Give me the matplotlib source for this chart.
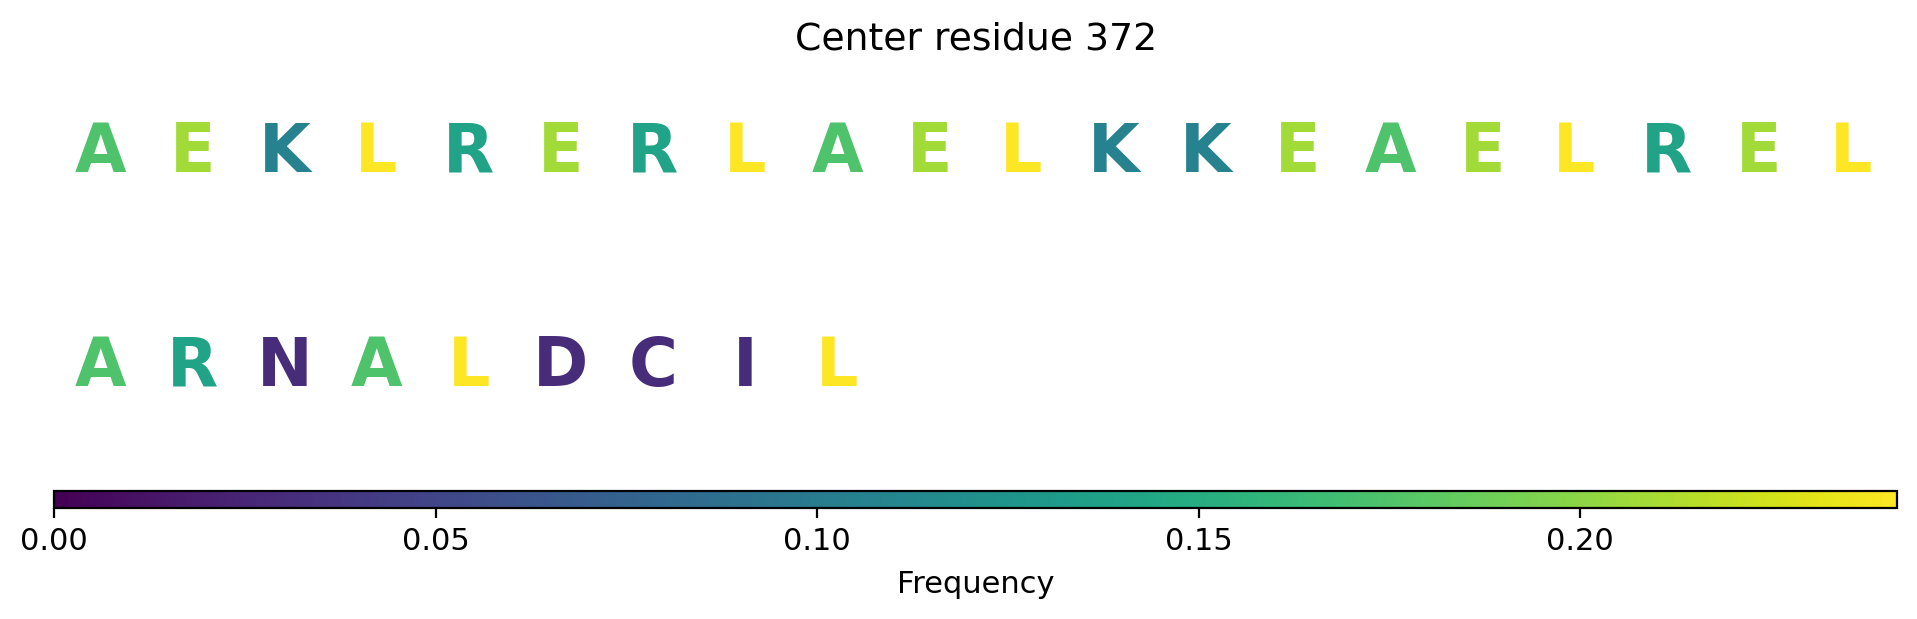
import numpy as np
import matplotlib
matplotlib.use("Agg")
import matplotlib.pyplot as plt
from matplotlib.colors import Normalize
from matplotlib.cm import ScalarMappable

# Residues shown in each row
top_row = list("AEKLRERLAELKKEAELREL")
bottom_row = list("ARNALDCIL")

# Frequency of each residue type
residues = ["L", "E", "A", "R", "K", "N", "D", "C", "I"]
frequencies = [0.2415, 0.208, 0.174, 0.140, 0.106, 0.030, 0.030, 0.030, 0.030]
freq = dict(zip(residues, frequencies))

title = "Center residue 372"
cbar_ticks = [0.00, 0.05, 0.10, 0.15, 0.20]

cmap = plt.get_cmap("viridis")
norm = Normalize(vmin=0, vmax=max(frequencies))

fig = plt.figure(figsize=(1917 / 200, 619 / 200), dpi=200)

# Main axes holding the letters
ax = fig.add_axes([54 / 1917, (619 - 467) / 619, 1843 / 1917, 428 / 619])
ax.set_xlim(-0.5, len(top_row) - 0.5)
ax.set_ylim(-0.5, 1.5)
ax.axis("off")

for row_y, row in [(1, top_row), (0, bottom_row)]:
    for i, res in enumerate(row):
        ax.text(i, row_y, res, ha="center", va="center_baseline",
                fontsize=24, fontweight="bold", color=cmap(norm(freq[res])))

fig.text(976 / 1917, 1 - 49 / 619, title, ha="center", va="baseline", fontsize=13.6)

# Colour bar
cax = fig.add_axes([54 / 1917, (619 - 507.5) / 619, 1843 / 1917, 17 / 619])
sm = ScalarMappable(norm=norm, cmap=cmap)
cb = fig.colorbar(sm, cax=cax, orientation="horizontal")
cb.set_ticks(cbar_ticks)
cb.ax.set_xticklabels([f"{t:.2f}" for t in cbar_ticks])
cb.ax.tick_params(labelsize=11)
cb.set_label("Frequency", fontsize=11, labelpad=5)

fig.savefig("out.png", dpi=200)
